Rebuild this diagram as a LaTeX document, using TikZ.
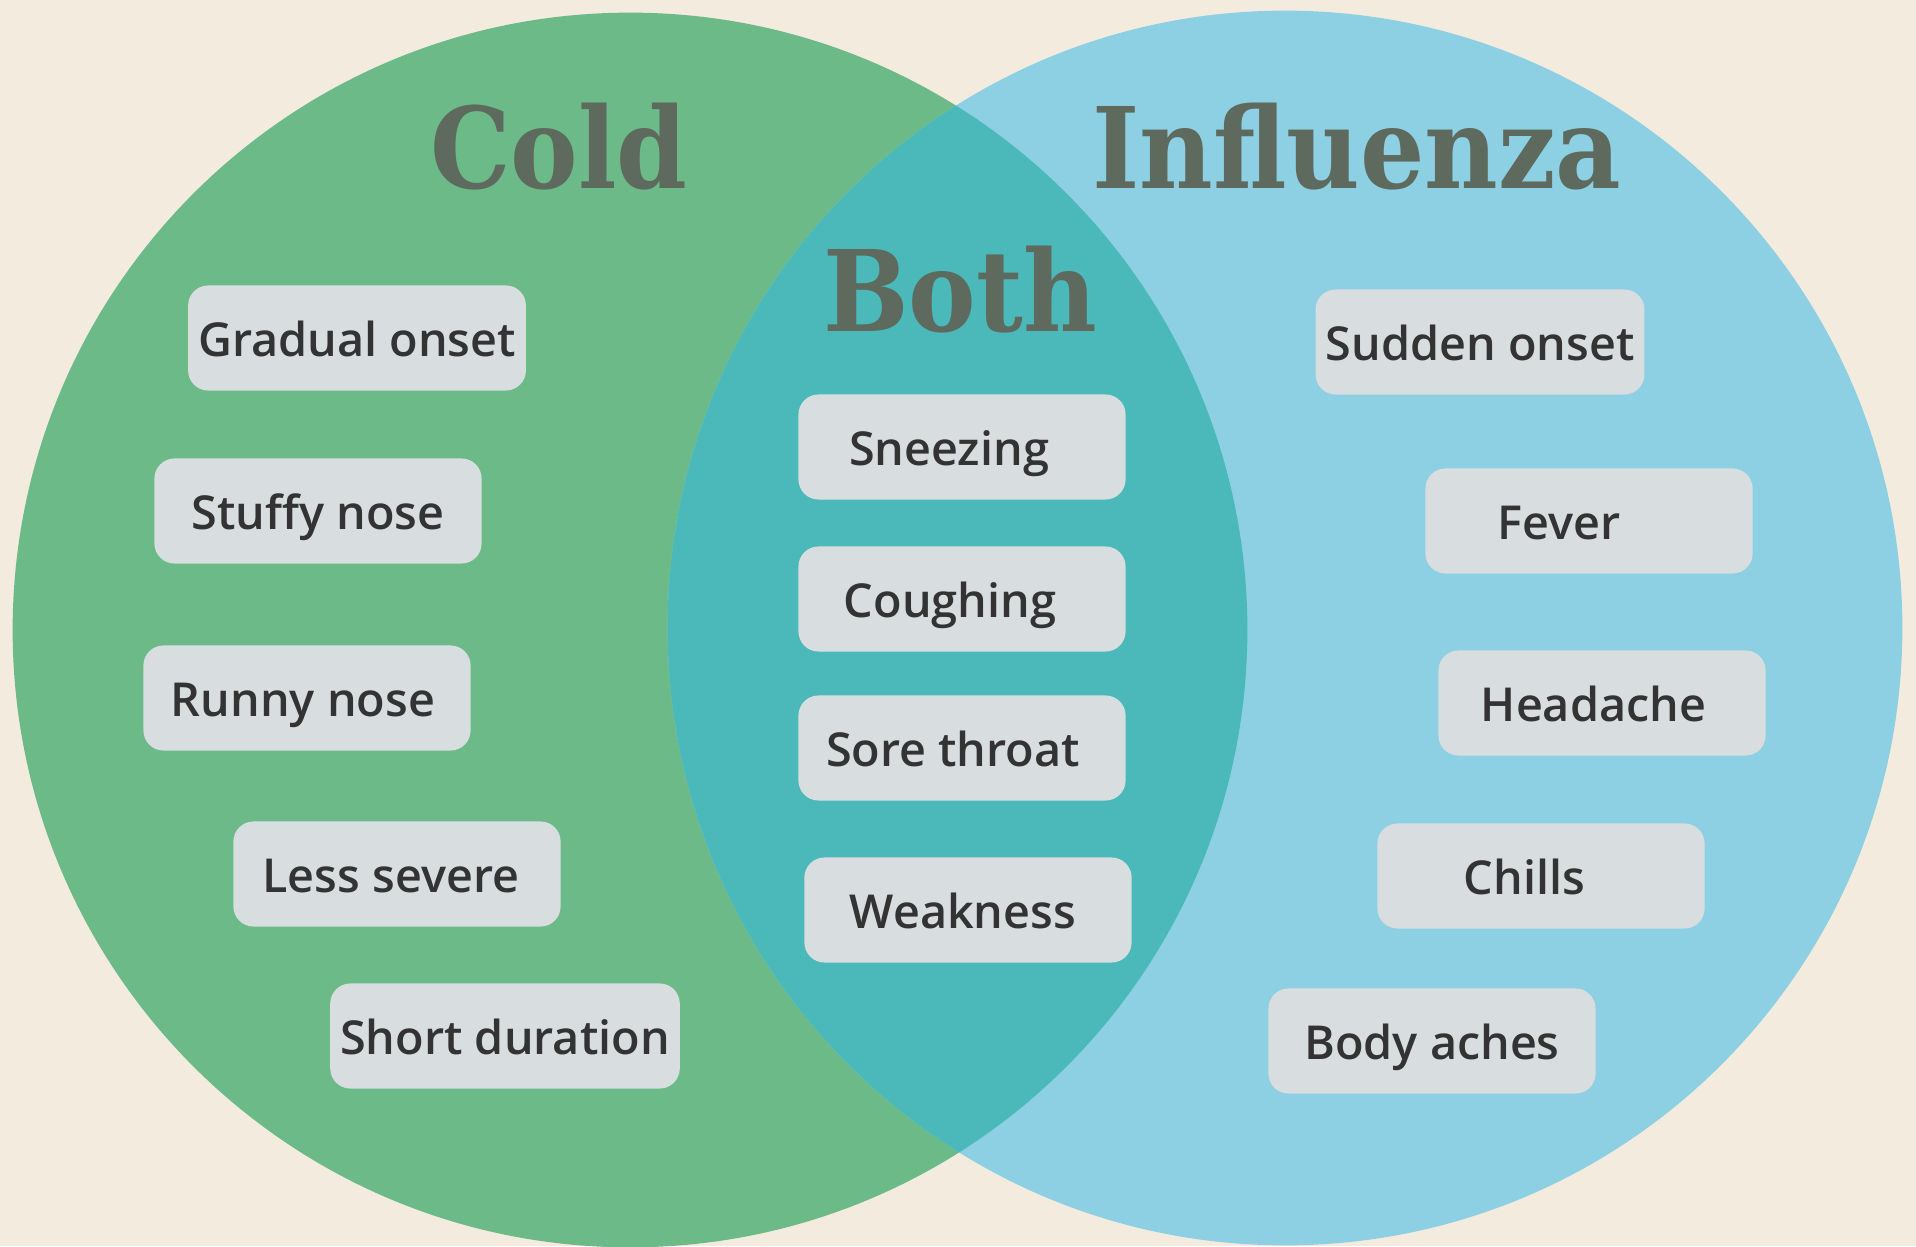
\documentclass[tikz,border=0pt]{standalone}
\usepackage{fontspec}
\setmainfont{Open Sans}
\IfFontExistsTF{Open Sans Semibold}
  {\newfontfamily\chipfont{Open Sans Semibold}\def\chipsize{13.3}}
  {\IfFontExistsTF{Noto Sans SemiBold}
    {\newfontfamily\chipfont{Noto Sans SemiBold}\def\chipsize{13.3}}
    {\newfontfamily\chipfont{Open Sans Bold}\def\chipsize{13.2}}}
\newfontfamily\headfont{DejaVu Serif Condensed}
\definecolor{paper}{HTML}{F4EBDF}
\definecolor{coldfill}{HTML}{6BBA87}
\definecolor{flufill}{HTML}{8DD0E3}
\definecolor{bothfill}{HTML}{4BB8BA}
\definecolor{chip}{HTML}{D8DDE0}
\definecolor{ink}{HTML}{333333}
\definecolor{headink}{HTML}{5E6A5D}

\begin{document}
\begin{tikzpicture}[x=0.01cm, y=-0.01cm,
  symptom/.style={fill=chip, rounded corners=0.2cm, minimum width=3.27cm, minimum height=1.05cm,
    inner xsep=0.1cm, inner ysep=0pt, text height=1.06em, text depth=0pt, text=ink,
    font=\chipfont\fontsize{\chipsize}{17}\selectfont},
  heading/.style={anchor=base, text=headink, font=\headfont\bfseries\fontsize{32}{37}\selectfont}]
\clip (0,0) rectangle (1916,1246);
\fill[paper] (0,0) rectangle (1916,1246);
% the two sets and their overlap
\fill[coldfill] (630,630) circle[radius=6.17cm];
\fill[flufill] (1285,628) circle[radius=6.17cm];
\begin{scope}
  \clip (630,630) circle[radius=6.17cm];
  \fill[bothfill] (1285,628) circle[radius=6.17cm];
\end{scope}
\node[heading] (cold) at (559,189) {Cold};
\node[heading] (flu) at (1357,189) {Influenza};
\node[heading] (both) at (960,332) {Both};
% cold only
\node[symptom] (gradual) at (357,338) {Gradual onset};
\node[symptom] (stuffy) at (318,511) {Stuffy nose};
\node[symptom] (runny) at (307,698) {Runny nose\hspace*{0.08cm}};
\node[symptom] (lesssev) at (397,874) {Less severe\hspace*{0.12cm}};
\node[symptom] (short) at (505,1036) {Short duration};
% both
\node[symptom] (sneeze) at (962,447) {Sneezing\hspace*{0.26cm}};
\node[symptom] (cough) at (962,599) {Coughing\hspace*{0.24cm}};
\node[symptom] (throat) at (962,748) {Sore throat\hspace*{0.18cm}};
\node[symptom] (weak) at (968,910) {Weakness\hspace*{0.1cm}};
% influenza only
\node[symptom] (sudden) at (1480,342) {Sudden onset};
\node[symptom] (fever) at (1589,521) {Fever\hspace*{0.6cm}};
\node[symptom] (headache) at (1602,703) {Headache\hspace*{0.17cm}};
\node[symptom] (chills) at (1541,876) {Chills\hspace*{0.33cm}};
\node[symptom] (aches) at (1432,1041) {Body aches};
\end{tikzpicture}
\end{document}
